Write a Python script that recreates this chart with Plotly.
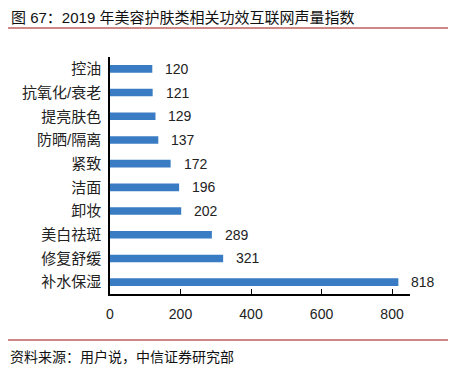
import plotly.graph_objects as go

categories = ["控油", "抗氧化/衰老", "提亮肤色", "防晒/隔离", "紧致", "洁面", "卸妆", "美白祛斑", "修复舒缓", "补水保湿"]
values = [120, 121, 129, 137, 172, 196, 202, 289, 321, 818]
x_ticks = [0, 200, 400, 600, 800]

title_text = "图 67：2019 年美容护肤类相关功效互联网声量指数"
source_text = "资料来源：用户说，中信证券研究部"

FONT = "Liberation Sans, Arial, Noto Sans CJK SC, sans-serif"
OFF = 8  # page body offset
W, H = 456 - OFF, 368 - OFF
ml, mr, mt, mb = 110 - OFF, 46, 57 - OFF, 74


def px_to_paper_x(px):
    return (px - OFF - ml) / (W - ml - mr)


def px_to_paper_y(py):
    return (H - mb - (py - OFF)) / (H - mt - mb)


fig = go.Figure()
fig.add_trace(go.Bar(
    y=categories, x=values, orientation="h",
    marker=dict(color="#3A7CC3", line=dict(width=0)),
    width=0.32,
))

for c, v in zip(categories, values):
    fig.add_annotation(x=v, y=c, xref="x", yref="y", text=str(v), showarrow=False,
                       xanchor="left", xshift=11, font=dict(size=14, color="#222", family=FONT))

fig.update_yaxes(autorange=False, range=[9.5, -0.5], type="category",
                 showline=True, linecolor="#000", linewidth=1.5, ticks="",
                 tickfont=dict(size=15, color="#222", family=FONT), ticklabelstandoff=4,
                 showgrid=False)
fig.update_xaxes(range=[0, 851], tickvals=x_ticks, showline=True, linecolor="#000", linewidth=1.5,
                 ticks="inside", ticklen=5, tickcolor="#000", tickwidth=1,
                 tickfont=dict(size=14, color="#222", family=FONT), ticklabelstandoff=6,
                 showgrid=False, zeroline=False)

# title and source
fig.add_annotation(x=px_to_paper_x(9), y=px_to_paper_y(17), xref="paper", yref="paper", text=title_text,
                   showarrow=False, xanchor="left", yanchor="middle",
                   font=dict(size=15, color="#111", family=FONT))
fig.add_annotation(x=px_to_paper_x(8), y=px_to_paper_y(357), xref="paper", yref="paper", text=source_text,
                   showarrow=False, xanchor="left", yanchor="middle",
                   font=dict(size=14, color="#111", family=FONT))

for yy in (28, 340):
    fig.add_shape(type="line", xref="paper", yref="paper",
                  x0=px_to_paper_x(8), x1=px_to_paper_x(450),
                  y0=px_to_paper_y(yy), y1=px_to_paper_y(yy),
                  line=dict(color="#C0615E", width=1.5))

fig.update_layout(width=W, height=H, margin=dict(l=ml, r=mr, t=mt, b=mb),
                  plot_bgcolor="white", paper_bgcolor="white", showlegend=False,
                  font=dict(family=FONT))

fig.write_html("out.html")
